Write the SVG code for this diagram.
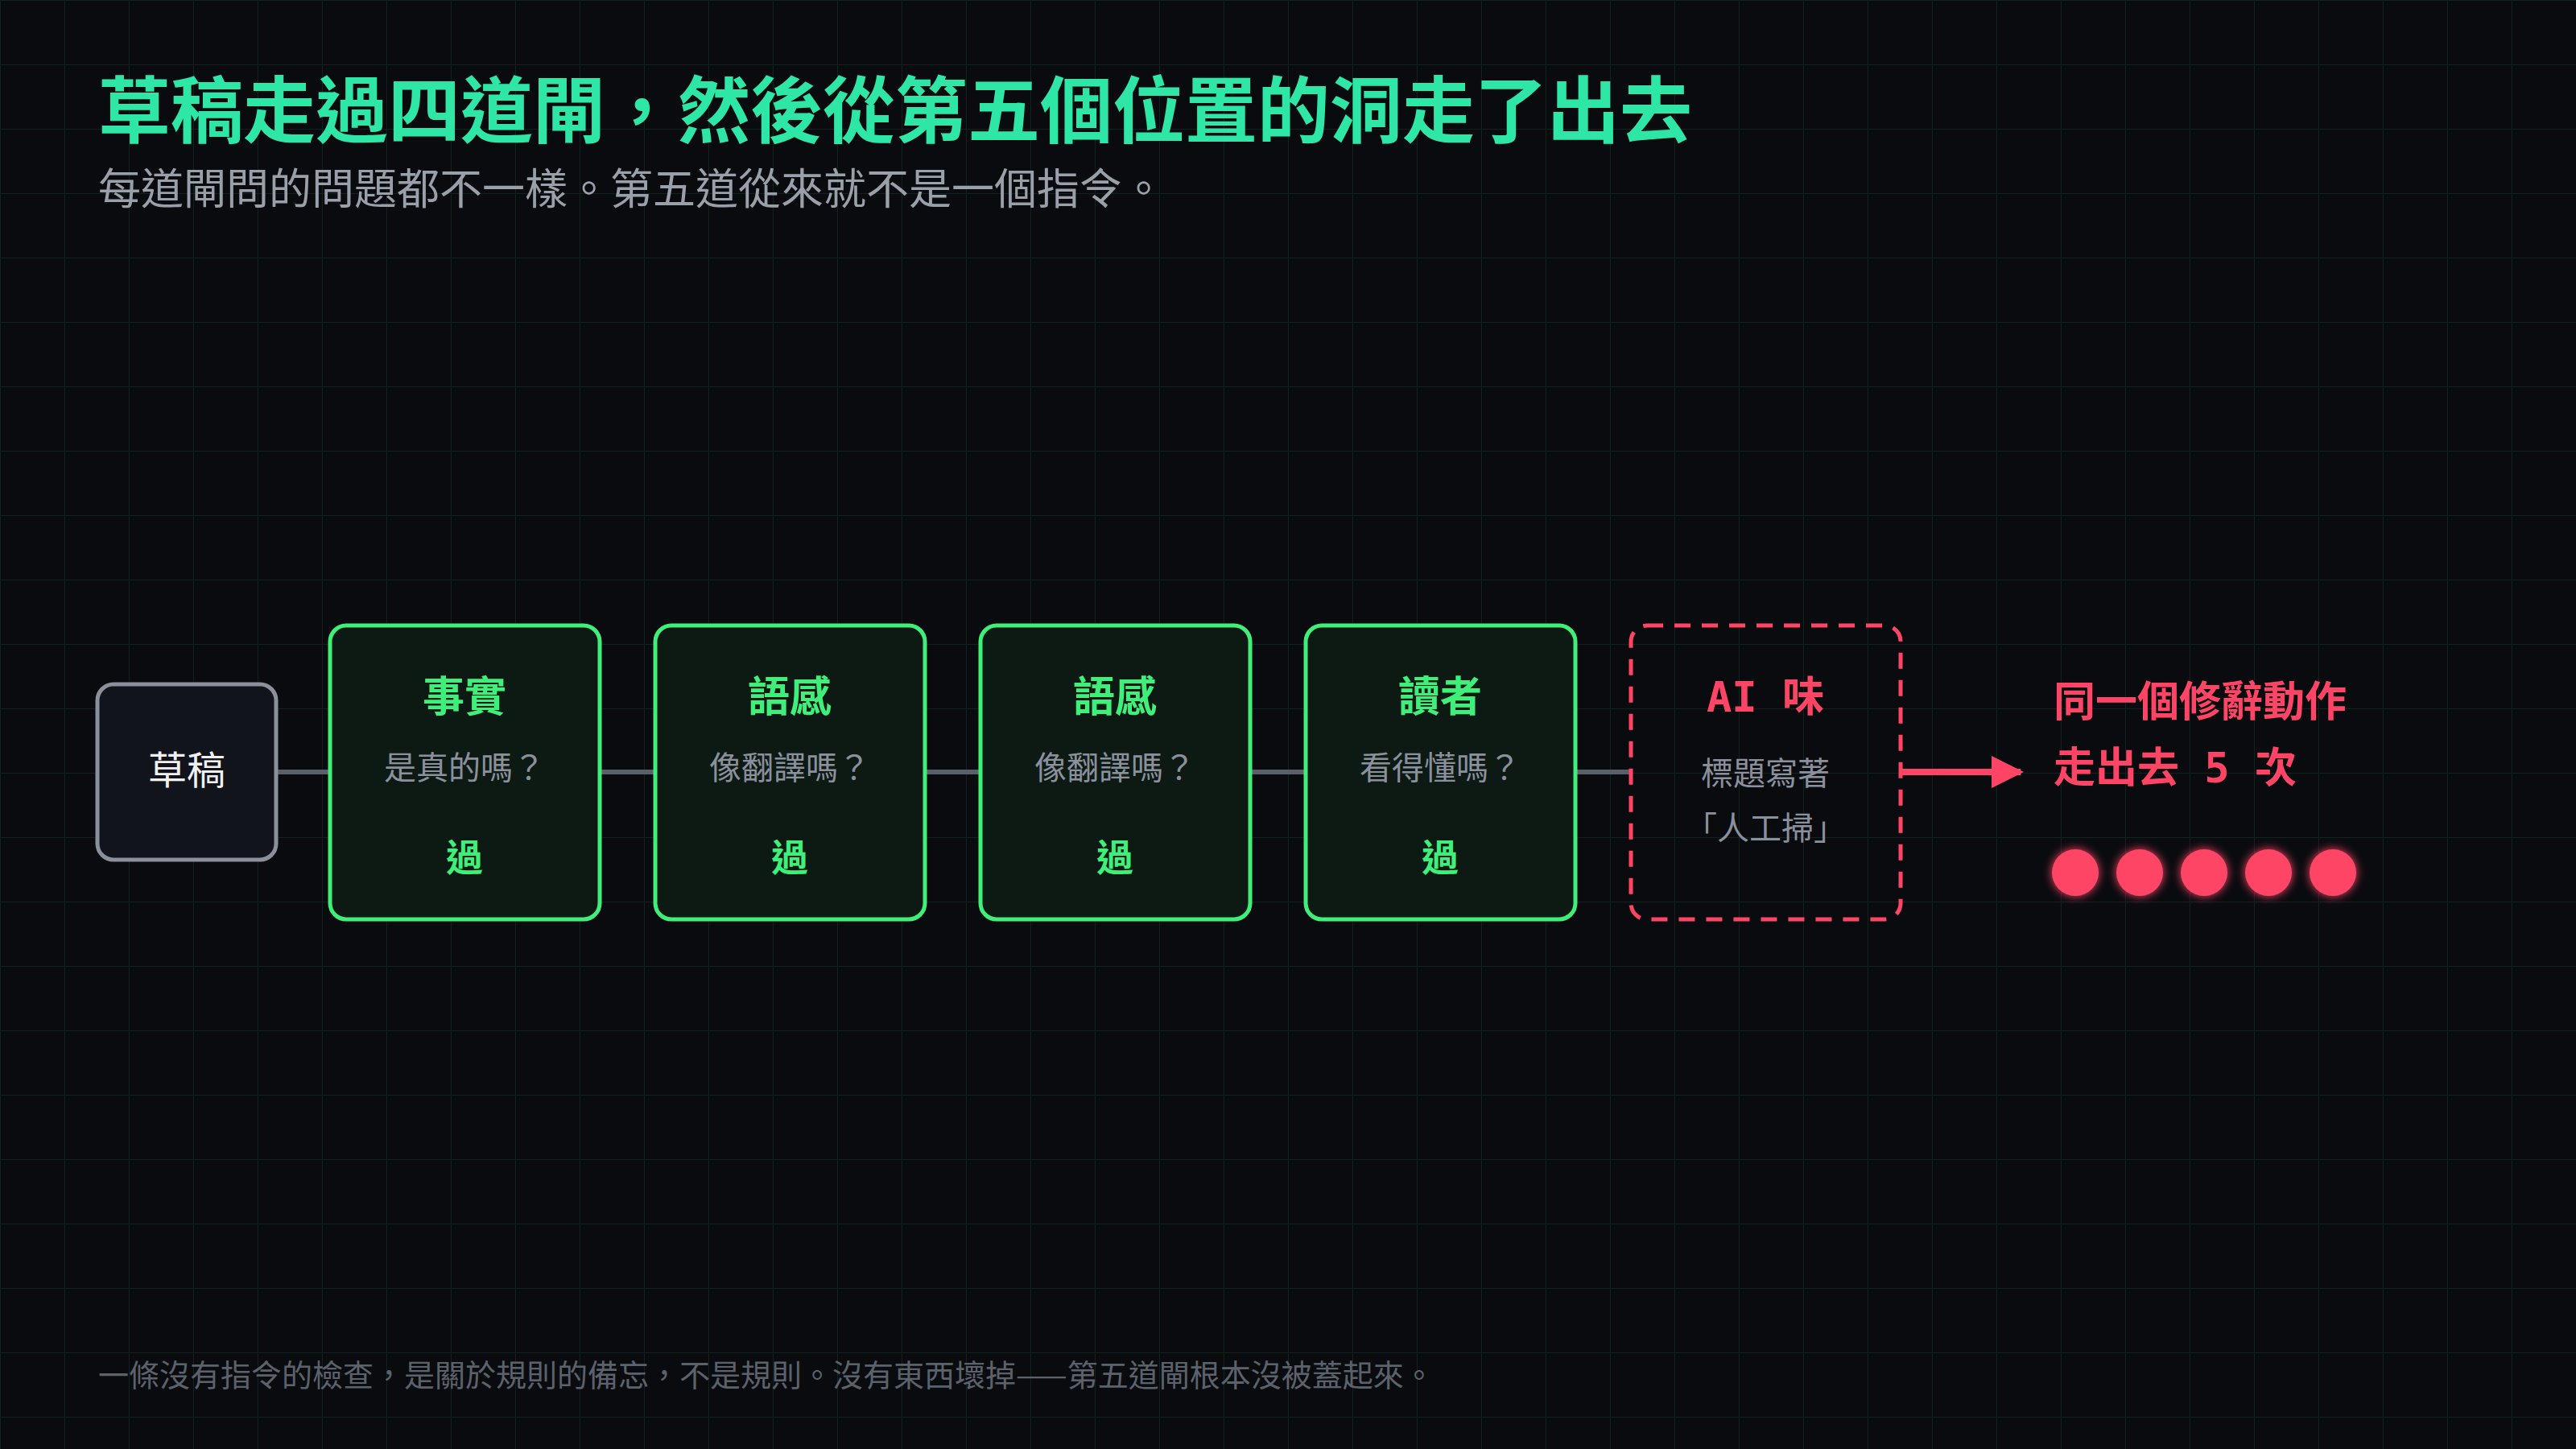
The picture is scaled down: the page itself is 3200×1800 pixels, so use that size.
<svg xmlns="http://www.w3.org/2000/svg" width="3200" height="1800" viewBox="0 0 3200 1800">
<defs>
<pattern id="grid" width="80" height="80" patternUnits="userSpaceOnUse"><path d="M80 0H0V80" fill="none" stroke="#14221f" stroke-width="2"/></pattern>
<filter id="glow" x="-1" y="-1" width="3" height="3"><feGaussianBlur stdDeviation="6" result="b"/><feMerge><feMergeNode in="b"/><feMergeNode in="SourceGraphic"/></feMerge></filter>
<marker id="arr" viewBox="0 0 10 10" refX="9" refY="5" markerWidth="5" markerHeight="5" orient="auto" markerUnits="strokeWidth"><path d="M0 0L10 5L0 10z" fill="#ff4466"/></marker>
<style>
text{font-family:"Noto Sans CJK TC","Noto Sans",sans-serif;text-anchor:middle}
.gate rect{fill:#0d1a14;stroke:#3ef07a;stroke-width:5}
.h{font-size:52px;font-weight:700;fill:#3ef07a}
.q{font-size:40px;fill:#8a909c}
.p{font-size:46px;font-weight:700;fill:#3ef07a}
.red{fill:#ff4466;font-weight:700}
</style>
</defs>
<rect width="3200" height="1800" fill="#0a0b0f"/>
<rect width="3200" height="1800" fill="url(#grid)"/>
<text x="122" y="170" style="text-anchor:start;font-size:90px;font-weight:700;fill:#2ee6a6">草稿走過四道閘，然後從第五個位置的洞走了出去</text>
<text x="122" y="254" style="text-anchor:start;font-size:53px;fill:#9aa0aa">每道閘問的問題都不一樣。第五道從來就不是一個指令。</text>
<g id="connectors" stroke="#5a606a" stroke-width="6">
<line x1="345" y1="959" x2="410" y2="959"/>
<line x1="745" y1="959" x2="814" y2="959"/>
<line x1="1149" y1="959" x2="1218" y2="959"/>
<line x1="1553" y1="959" x2="1622" y2="959"/>
<line x1="1957" y1="959" x2="2026" y2="959"/>
<line x1="2361" y1="959" x2="2510" y2="959" stroke="#ff4466" stroke-width="8" marker-end="url(#arr)"/>
</g>
<g id="draft"><rect x="121" y="850" width="222" height="218" rx="20" fill="#12141c" stroke="#8a909c" stroke-width="5"/><text x="232" y="974" style="font-size:48px;fill:#f0f0f0">草稿</text></g>
<g id="gate1" class="gate"><rect x="410" y="777" width="335" height="365" rx="20"/><text class="h" x="577" y="884">事實</text><text class="q" x="577" y="968">是真的嗎？</text><text class="p" x="577" y="1082">過</text></g>
<g id="gate2" class="gate"><rect x="814" y="777" width="335" height="365" rx="20"/><text class="h" x="981" y="884">語感</text><text class="q" x="981" y="968">像翻譯嗎？</text><text class="p" x="981" y="1082">過</text></g>
<g id="gate3" class="gate"><rect x="1218" y="777" width="335" height="365" rx="20"/><text class="h" x="1385" y="884">語感</text><text class="q" x="1385" y="968">像翻譯嗎？</text><text class="p" x="1385" y="1082">過</text></g>
<g id="gate4" class="gate"><rect x="1622" y="777" width="335" height="365" rx="20"/><text class="h" x="1789" y="884">讀者</text><text class="q" x="1789" y="968">看得懂嗎？</text><text class="p" x="1789" y="1082">過</text></g>
<g id="gate5"><rect x="2026" y="777" width="335" height="365" rx="20" fill="none" stroke="#ff4466" stroke-width="5" stroke-dasharray="20 14"/><text class="red" x="2193" y="884" style="font-size:52px;font-family:'DejaVu Sans Mono','Noto Sans CJK TC',monospace">AI 味</text><text class="q" x="2193" y="975">標題寫著</text><text class="q" x="2193" y="1043">「人工掃」</text></g>
<g id="result">
<text class="red" x="2551" y="890" style="text-anchor:start;font-size:52px">同一個修辭動作</text>
<text class="red" x="2551" y="972" style="text-anchor:start;font-size:52px;font-family:'DejaVu Sans Mono','Noto Sans CJK TC',monospace">走出去 5 次</text>
<g fill="#ff4466" filter="url(#glow)"><circle cx="2578" cy="1084" r="29"/><circle cx="2658" cy="1084" r="29"/><circle cx="2738" cy="1084" r="29"/><circle cx="2818" cy="1084" r="29"/><circle cx="2898" cy="1084" r="29"/></g>
</g>
<text x="122" y="1722" style="text-anchor:start;font-size:38px;fill:#5c626c">一條沒有指令的檢查，是關於規則的備忘，不是規則。沒有東西壞掉——第五道閘根本沒被蓋起來。</text>
</svg>
